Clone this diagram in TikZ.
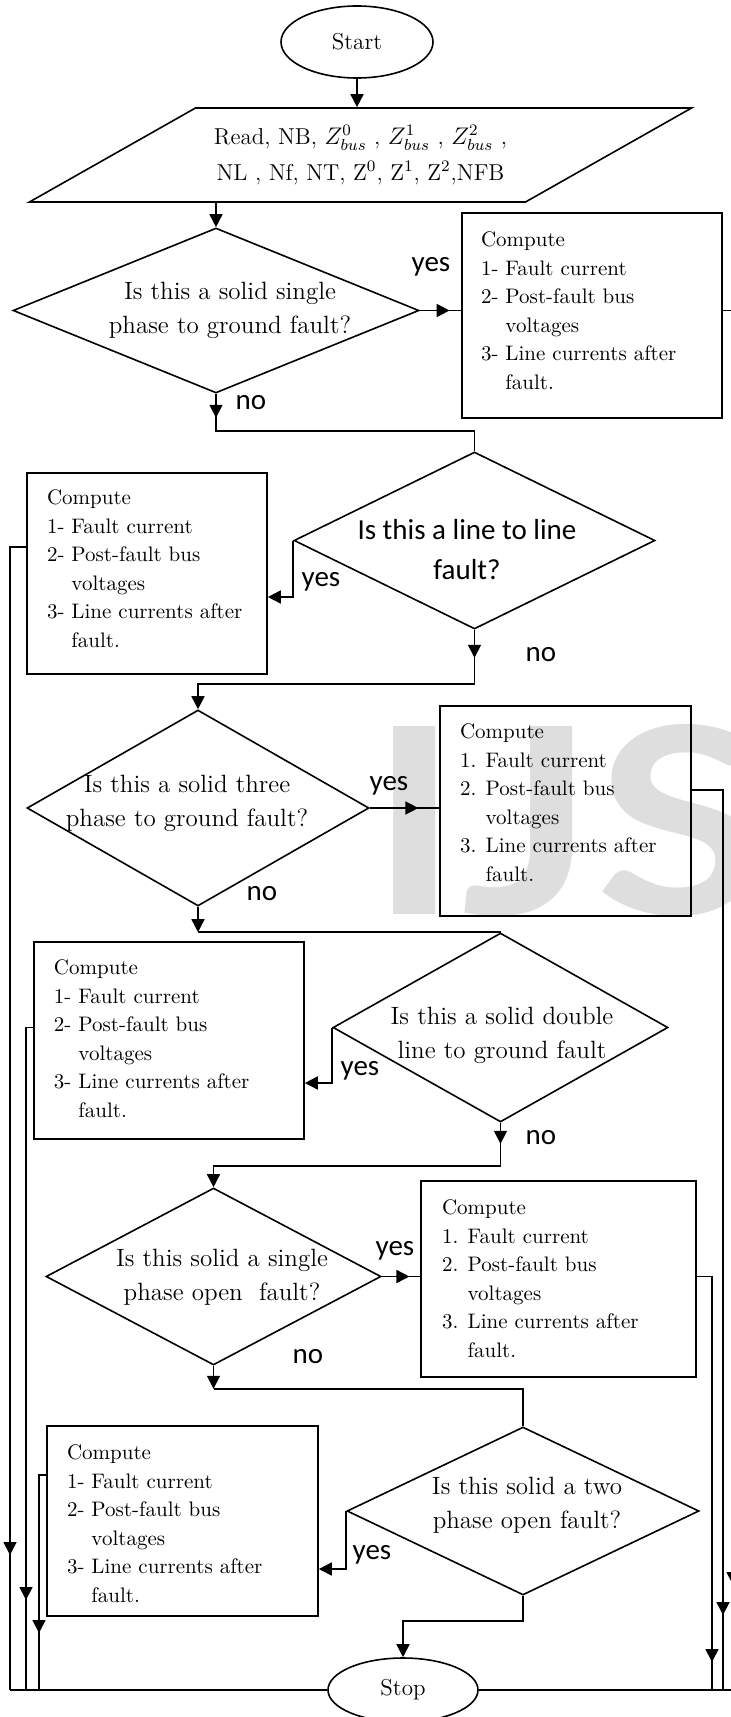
\documentclass[tikz,border=0pt]{standalone}
\usepackage{fontspec}
\newfontfamily\calibri{Carlito}
\newfontfamily\markfont{Lato}
\usetikzlibrary{shapes.geometric,arrows.meta,decorations.markings}

\newcommand{\steplist}[1]{Compute\\%
1#1 Fault current\\%
2#1 Post-fault bus\\%
\phantom{2#1 }voltages\\%
3#1 Line currents after\\%
\phantom{3#1 }fault.}

\tikzset{
  >={Triangle[length=6.5pt,width=6.5pt]},
  term/.style={draw, ellipse, inner sep=0pt, font=\fontsize{11.5}{14}\selectfont},
  readbox/.style={draw, trapezium, trapezium left angle=24, trapezium right angle=156, trapezium stretches=true, inner sep=2pt, align=center, font=\fontsize{11.5}{18}\selectfont},
  query/.style={draw, diamond, inner sep=0pt},
  querytext/.style={align=center, inner sep=0pt, font=\fontsize{12.5}{17}\selectfont},
  querysans/.style={align=center, inner sep=0pt, font=\calibri\fontsize{14.5}{20}\selectfont},
  outbox/.style={draw, rectangle, inner sep=0pt},
  outtext/.style={anchor=north west, align=left, inner sep=0pt, font=\fontsize{10.5}{14.25}\selectfont},
  answer/.style={inner sep=0pt, font=\calibri\fontsize{14.5}{17}\selectfont},
  tipat/.style={postaction={decorate}, decoration={markings, mark=at position #1 with {\arrow{>}}}},
}

\begin{document}
\begin{tikzpicture}[x=0.5pt, y=-0.5pt, line width=0.8pt]
\useasboundingbox (0,0) rectangle (730,1717);
\node[anchor=base west, inner sep=0pt, text=black!13, font=\markfont\bfseries\fontsize{130}{130}\selectfont] (mark) at (368,914) {\scalebox{1.2}[1]{IJS}};

\node[term, minimum width=76pt, minimum height=36pt] (start) at (357,42) {Start};
\node[readbox, minimum width=332.5pt, minimum height=47pt] (read) at (360.5,155) {Read, NB, $Z_{bus}^{0}$ , $Z_{bus}^{1}$ , $Z_{bus}^{2}$ ,\\NL , Nf, NT, Z\textsuperscript{0}, Z\textsuperscript{1}, Z\textsuperscript{2},NFB};

% decisions
\node[query, minimum width=203pt, minimum height=82.5pt] (d1) at (216,310.5) {};
\node[querytext] (d1t) at (230,310) {Is this a solid single\\phase to ground fault?};
\node[query, minimum width=180.5pt, minimum height=88.5pt] (d2) at (474.5,540.5) {};
\node[querysans] (d2t) at (467,550) {Is this a line to line\\fault?};
\node[query, minimum width=171pt, minimum height=98pt] (d3) at (198,808) {};
\node[querytext] (d3t) at (187,803) {Is this a solid three\\phase to ground fault?};
\node[query, minimum width=167.5pt, minimum height=94.5pt] (d4) at (500.5,1027.5) {};
\node[querytext] (d4t) at (502,1035) {Is this a solid double\\line to ground fault};
\node[query, minimum width=167.5pt, minimum height=88.5pt] (d5) at (213.5,1276.5) {};
\node[querytext] (d5t) at (222,1277) {Is this solid a single\\phase open~ fault?};
\node[query, minimum width=176pt, minimum height=84pt] (d6) at (523,1511) {};
\node[querytext] (d6t) at (527,1505) {Is this solid a two\\phase open fault?};

% results
\node[outbox, minimum width=130pt, minimum height=102.5pt] (b1) at (592,315.5) {};
\node[outtext] (b1t) at ([shift={(19,19)}]b1.north west) {\steplist{-}};
\node[outbox, minimum width=120pt, minimum height=100.5pt] (b2) at (147,573.5) {};
\node[outtext] (b2t) at ([shift={(20,17)}]b2.north west) {\steplist{-}};
\node[outbox, minimum width=125.5pt, minimum height=105pt] (b3) at (565.5,811) {};
\node[outtext] (b3t) at ([shift={(20,18)}]b3.north west) {\steplist{.}};
\node[outbox, minimum width=135pt, minimum height=98.5pt] (b4) at (169,1040.5) {};
\node[outtext] (b4t) at ([shift={(20,18)}]b4.north west) {\steplist{-}};
\node[outbox, minimum width=137.5pt, minimum height=98pt] (b5) at (558.5,1279) {};
\node[outtext] (b5t) at ([shift={(21,19)}]b5.north west) {\steplist{.}};
\node[outbox, minimum width=135.5pt, minimum height=95pt] (b6) at (182.5,1521) {};
\node[outtext] (b6t) at ([shift={(20,19)}]b6.north west) {\steplist{-}};

\node[term, minimum width=75pt, minimum height=32pt] (stop) at (403,1690) {Stop};

\node[answer] (y1) at (431,267) {yes};
\node[answer] (n1) at (251,403) {no};
\node[answer] (y2) at (321,582) {yes};
\node[answer] (n2) at (541,655) {no};
\node[answer] (y3) at (389,786) {yes};
\node[answer] (n3) at (262,894) {no};
\node[answer] (y4) at (360,1071) {yes};
\node[answer] (n4) at (541,1138) {no};
\node[answer] (y5) at (395,1251) {yes};
\node[answer] (n5) at (308,1357) {no};
\node[answer] (y6) at (372,1555) {yes};

\coordinate (lt1) at (10,1690);
\coordinate (lt2) at (26,1690);
\coordinate (lt3) at (39,1690);
\coordinate (rt1) at (733,1690);
\coordinate (rt2) at (723,1690);
\coordinate (rt3) at (712,1690);

\draw[->] (start) -- (start |- read.north);
\draw[->] (read.south -| d1) -- (d1.north);
\draw[tipat=0.72] (d1.east) -- (d1.east -| b1.west);
\draw[->] (d1.south) -- ++(0,24);
\draw (d1.south) -- ++(0,37) -| (d2.north);
\draw[->] (d2.west) |- ([yshift=-11.75pt]b2.east);
\draw[->] (d2.south) -- ++(0,28);
\draw[->] (d2.south) -- ++(0,54) -| (d3.north);
\draw[tipat=0.7] (d3.east) -- (d3.east -| b3.west);
\draw[->] (d3.south) -- (d3.south |- d4.north);
\draw (d3.south |- d4.north) -- (d4.north);
\draw[->] (d4.west) |- ([yshift=-21.25pt]b4.east);
\draw[->] (d4.south) -- ++(0,21);
\draw[->] (d4.south) -- ++(0,43) -| (d5.north);
\draw[tipat=0.72] (d5.east) -- (d5.east -| b5.west);
\draw[->] (d5.south) -- ++(0,23);
\draw (d5.south) ++(0,23) -| (d6.north);
\draw[->] (d6.west) |- ([yshift=-24pt]b6.east);
\draw[->] (d6.south) -- ++(0,25) -| (stop.north);

% back to stop
\draw[tipat=-67.5pt] ([yshift=13.25pt]b2.west) -| (lt1);
\draw[tipat=-45pt] (b4.west |- d4) -| (lt2);
\draw[tipat=-28.5pt] ([yshift=23pt]b6.west) -| (lt3);
\draw[tipat=-52.5pt] (b1.east |- d1) -| (rt1);
\draw[tipat=-37.5pt] ([yshift=10.5pt]b3.east) -| (rt2);
\draw[tipat=-14pt] (b5.east |- d5) -| (rt3);
\draw (lt1) -- (stop.west);
\draw (stop.east) -- (rt1);
\end{tikzpicture}
\end{document}
